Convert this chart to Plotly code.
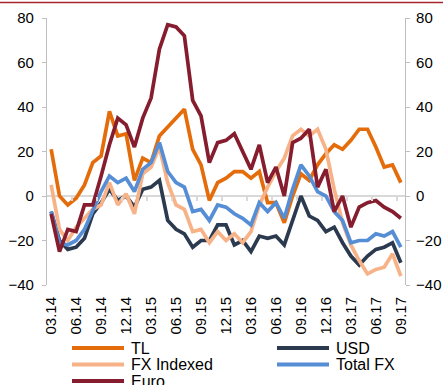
import plotly.graph_objects as go

# Monthly loan growth series, 03.14 - 09.17 (43 months), %
tl = [21, 0, -4, -1, 5, 15, 18, 38, 27, 28, 7, 17, 15, 27, 31, 35, 39, 21, 14, -2,
      6, 8, 11, 11, 8, 11, -3, -3, -12, 0, 10, 7, 14, 19, 23, 21, 25, 30, 30, 22,
      13, 14, 6]
usd = [-7, -20, -24, -23, -19, -8, -3, 3, -2, 0, -5, 3, 4, 7, -11, -15, -17, -23, -20, -20,
       -13, -13, -22, -20, -25, -18, -19, -18, -22, -11, 0, -9, -11, -16, -14, -21, -27, -31, -27, -24,
       -23, -21, -30]
fx_indexed = [5, -15, -20, -14, -10, -6, -4, 6, -4, 1, -8, 10, 13, 22, 6, -4, -6, -16, -15, -21,
              -16, -20, -17, -21, -16, -4, 4, 11, 17, 27, 30, 27, 30, 21, 3, -12, -22, -29, -35, -33,
              -32, -26, -36]
total_fx = [-7, -21, -22, -20, -15, -6, 2, 9, 6, 8, 2, 12, 15, 24, 11, 6, 4, -7, -6, -11,
            -4, -5, -8, -10, -13, -3, -7, -3, -10, 3, 14, 9, 2, 0, -7, -11, -21, -20, -20, -17,
            -18, -16, -23]
euro = [-8, -25, -15, -16, -4, -4, 9, 23, 35, 32, 22, 35, 44, 66, 77, 76, 72, 43, 36, 15,
        24, 25, 28, 20, 12, 23, 6, 13, 0, 24, 26, 30, 4, 12, -7, 0, -14, -5, -3, -2,
        -5, -7, -10]

quarter_labels = ["03.14", "06.14", "09.14", "12.14", "03.15", "06.15", "09.15", "12.15",
                  "03.16", "06.16", "09.16", "12.16", "03.17", "06.17", "09.17"]
y_ticks = [-40, -20, 0, 20, 40, 60, 80]

series_names = ["TL", "USD", "FX Indexed", "Total FX", "Euro"]
series_values = [tl, usd, fx_indexed, total_fx, euro]
series_colors = ["#E46C0A", "#2B3A4E", "#F8B288", "#558ED5", "#861D2E"]

W, H = 443, 385
ML, MR, MT, MB = 47, 38, 18, 100
PW, PH = W - ML - MR, H - MT - MB
FONT = "Liberation Sans, Arial, sans-serif"
AXIS_GREY = "#BFBFBF"
ZERO_GREY = "#D9D9D9"

n = len(tl)
x = list(range(n))
x_range = [-0.5, n - 0.5]
y_range = [-40, 80]

fig = go.Figure()

# empty traces so the secondary axes (right value axis, zero-line ticks) get drawn
fig.add_trace(go.Scatter(x=[], y=[], xaxis="x", yaxis="y2", showlegend=False, hoverinfo="skip"))
fig.add_trace(go.Scatter(x=[], y=[], xaxis="x2", yaxis="y", showlegend=False, hoverinfo="skip"))

for name, vals, col in zip(series_names, series_values, series_colors):
    fig.add_trace(go.Scatter(x=x, y=vals, name=name, mode="lines",
                             line=dict(color=col, width=3.7),
                             showlegend=False, hoverinfo="skip"))

# legend drawn in two columns below the axis labels
def px_to_paper_x(px):
    return (px - ML) / PW

def px_to_paper_y(py):
    return (H - MB - py) / PH

shapes = []
annotations = []
col_x = [72, 277]
row_y = [348, 364.5, 381]
for k, (name, col) in enumerate(zip(series_names, series_colors)):
    cx = col_x[k % 2]
    ry = row_y[k // 2]
    shapes.append(dict(type="line", xref="paper", yref="paper",
                       x0=px_to_paper_x(cx), x1=px_to_paper_x(cx + 52),
                       y0=px_to_paper_y(ry), y1=px_to_paper_y(ry),
                       line=dict(color=col, width=4)))
    annotations.append(dict(xref="paper", yref="paper",
                            x=px_to_paper_x(cx + 57), y=px_to_paper_y(ry),
                            xanchor="left", yanchor="middle", showarrow=False,
                            text=name, font=dict(family=FONT, size=16, color="#000000")))

# thin rule across the top of the page
shapes.append(dict(type="line", xref="paper", yref="paper",
                   x0=px_to_paper_x(0), x1=px_to_paper_x(W),
                   y0=px_to_paper_y(2.5), y1=px_to_paper_y(2.5),
                   line=dict(color="#A5262C", width=1.6)))

tick_font = dict(family=FONT, size=15, color="#000000")

fig.update_layout(
    width=W, height=H,
    margin=dict(l=ML, r=MR, t=MT, b=MB, pad=0, autoexpand=False),
    paper_bgcolor="white", plot_bgcolor="white",
    showlegend=False,
    shapes=shapes, annotations=annotations,
    xaxis=dict(range=x_range, tickmode="array", automargin=False,
               tickvals=list(range(0, n, 3)), ticktext=quarter_labels,
               tickangle=-90, ticks="", showline=False, showgrid=False,
               zeroline=False, tickfont=tick_font, ticklabelstandoff=8),
    xaxis2=dict(range=x_range, overlaying="x", anchor="free", automargin=False,
                position=(0 - y_range[0]) / (y_range[1] - y_range[0]),
                tickmode="array", tickvals=[i + 2.5 for i in range(0, n - 3, 3)],
                ticks="outside", ticklen=4, tickwidth=1.5, tickcolor=ZERO_GREY,
                showticklabels=False, showline=False, showgrid=False, zeroline=False),
    yaxis=dict(range=y_range, tickmode="array", tickvals=y_ticks, automargin=False,
               ticks="outside", ticklen=4, tickcolor=AXIS_GREY,
               showline=True, linecolor=AXIS_GREY, linewidth=1.2,
               showgrid=False, zeroline=True, zerolinecolor=ZERO_GREY,
               zerolinewidth=2, tickfont=tick_font, ticklabelstandoff=5),
    yaxis2=dict(range=y_range, overlaying="y", side="right", anchor="x", automargin=False,
                tickmode="array", tickvals=y_ticks,
                ticks="outside", ticklen=4, tickcolor=AXIS_GREY,
                showline=True, linecolor=AXIS_GREY, linewidth=1.2,
                showgrid=False, zeroline=False, tickfont=tick_font,
                ticklabelstandoff=3),
)

fig.write_html("out.html")
